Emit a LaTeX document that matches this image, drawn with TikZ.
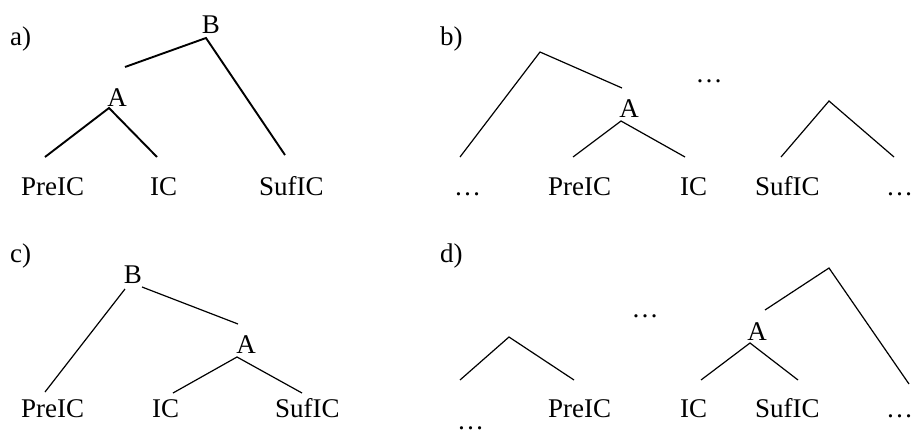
\documentclass[tikz,border=0pt]{standalone}
\usepackage{fontspec}
\setmainfont{Liberation Serif}
\begin{document}
\begin{tikzpicture}[x=1pt,y=-1pt,
  lbl/.style={inner sep=0pt,font=\fontsize{27}{31}\selectfont},
  leaf/.style={lbl,anchor=base west},
  cat/.style={lbl,anchor=base},
  br/.style={line width=1.2pt},
  brthick/.style={line width=1.9pt}]
\useasboundingbox (0,0) rectangle (914,434);
% ---------- a)
\node[leaf] (la) at (10,45) {a)};
\node[cat] (aB) at (211,33) {B};
\node[cat] (aA) at (117,106) {A};
\node[leaf] (aPre) at (21,195) {PreIC};
\node[leaf] (aIC) at (150,195) {IC};
\node[leaf] (aSuf) at (259,195) {SufIC};
\coordinate (aBt) at (206,38);
\coordinate (aBl) at (125,67);
\coordinate (aBr) at (285,155);
\coordinate (aAt) at (109,108);
\coordinate (aAl) at (45,157);
\coordinate (aAr) at (157,157);
\draw[brthick] (aBl) -- (aBt) -- (aBr);
\draw[brthick] (aAl) -- (aAt) -- (aAr);
% ---------- b)
\node[leaf] (lb) at (440,45) {b)};
\node[cat] (bdots) at (709,82) {…};
\node[cat] (bA) at (629,117) {A};
\node[leaf] (bd1) at (454,195) {…};
\node[leaf] (bPre) at (548,195) {PreIC};
\node[leaf] (bIC) at (680,195) {IC};
\node[leaf] (bSuf) at (755,195) {SufIC};
\node[leaf] (bd2) at (886,195) {…};
\coordinate (bTt) at (540,52);
\coordinate (bTl) at (460,157);
\coordinate (bTr) at (622,88);
\coordinate (bAt) at (621,121);
\coordinate (bAl) at (573,157);
\coordinate (bAr) at (685,157);
\coordinate (bSt) at (829,101);
\coordinate (bSl) at (781,157);
\coordinate (bSr) at (894,157);
\draw[br] (bTl) -- (bTt) -- (bTr);
\draw[br] (bAl) -- (bAt) -- (bAr);
\draw[br] (bSl) -- (bSt) -- (bSr);
% ---------- c)
\node[leaf] (lc) at (10,262) {c)};
\node[cat] (cB) at (133,283) {B};
\node[cat] (cA) at (246,353) {A};
\node[leaf] (cPre) at (21,417) {PreIC};
\node[leaf] (cIC) at (152,417) {IC};
\node[leaf] (cSuf) at (275,417) {SufIC};
\coordinate (cBl1) at (125,289);
\coordinate (cBl2) at (45,392);
\coordinate (cBr1) at (142,287);
\coordinate (cBr2) at (238,324);
\coordinate (cAt) at (237,357);
\coordinate (cAl) at (173,393);
\coordinate (cAr) at (302,393);
\draw[br] (cBl1) -- (cBl2);
\draw[br] (cBr1) -- (cBr2);
\draw[br] (cAl) -- (cAt) -- (cAr);
% ---------- d)
\node[leaf] (ld) at (440,262) {d)};
\node[leaf] (dd0) at (457,429) {…};
\node[leaf] (dPre) at (548,417) {PreIC};
\node[cat] (ddots) at (645,317) {…};
\node[cat] (dA) at (757,340) {A};
\node[leaf] (dIC) at (680,417) {IC};
\node[leaf] (dSuf) at (755,417) {SufIC};
\node[leaf] (dd2) at (886,417) {…};
\coordinate (dLt) at (509,337);
\coordinate (dLl) at (460,380);
\coordinate (dLr) at (574,380);
\coordinate (dTt) at (829,268);
\coordinate (dTl) at (765,310);
\coordinate (dTr) at (909,384);
\coordinate (dAt) at (750,343);
\coordinate (dAl) at (701,380);
\coordinate (dAr) at (798,380);
\draw[br] (dLl) -- (dLt) -- (dLr);
\draw[br] (dTl) -- (dTt) -- (dTr);
\draw[br] (dAl) -- (dAt) -- (dAr);
\end{tikzpicture}
\end{document}
